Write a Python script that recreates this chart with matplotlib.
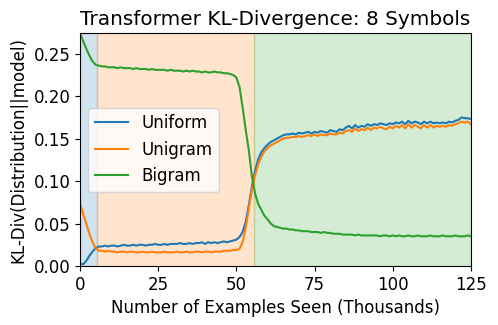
import numpy as np
import matplotlib
matplotlib.use("Agg")
import matplotlib.pyplot as plt

plt.rcParams["font.size"] = 12

# examples seen, in thousands
examples_k = list(range(0, 126))

uniform_kl = [
    0.003, 0.002, 0.006, 0.012, 0.017, 0.021, 0.023, 0.023, 0.024, 0.023,
    0.024, 0.024, 0.023, 0.024, 0.025, 0.024, 0.024, 0.025, 0.024, 0.025,
    0.025, 0.024, 0.025, 0.025, 0.026, 0.025, 0.025, 0.026, 0.025, 0.026,
    0.026, 0.026, 0.027, 0.026, 0.026, 0.027, 0.026, 0.027, 0.027, 0.028,
    0.026, 0.028, 0.027, 0.028, 0.027, 0.028, 0.029, 0.028, 0.029, 0.030,
    0.031, 0.034, 0.040, 0.052, 0.072, 0.094, 0.112, 0.126, 0.134, 0.139,
    0.143, 0.146, 0.148, 0.150, 0.152, 0.154, 0.155, 0.155, 0.156, 0.155,
    0.157, 0.156, 0.157, 0.158, 0.156, 0.158, 0.157, 0.159, 0.158, 0.157,
    0.160, 0.159, 0.158, 0.161, 0.160, 0.163, 0.165, 0.162, 0.166, 0.163,
    0.165, 0.164, 0.167, 0.165, 0.167, 0.166, 0.168, 0.167, 0.166, 0.168,
    0.167, 0.169, 0.168, 0.170, 0.167, 0.171, 0.168, 0.170, 0.169, 0.167,
    0.170, 0.168, 0.170, 0.168, 0.169, 0.168, 0.169, 0.168, 0.170, 0.169,
    0.171, 0.172, 0.175, 0.174, 0.174, 0.173,
]

unigram_kl = [
    0.073, 0.062, 0.050, 0.038, 0.028, 0.021, 0.018, 0.018, 0.017, 0.018,
    0.017, 0.017, 0.016, 0.017, 0.017, 0.016, 0.017, 0.017, 0.016, 0.016,
    0.017, 0.016, 0.016, 0.017, 0.016, 0.016, 0.016, 0.017, 0.016, 0.016,
    0.016, 0.017, 0.016, 0.016, 0.017, 0.016, 0.016, 0.017, 0.017, 0.016,
    0.017, 0.017, 0.016, 0.017, 0.017, 0.017, 0.018, 0.018, 0.018, 0.019,
    0.019, 0.020, 0.028, 0.045, 0.068, 0.090, 0.107, 0.120, 0.129, 0.135,
    0.139, 0.142, 0.144, 0.146, 0.148, 0.150, 0.151, 0.151, 0.152, 0.152,
    0.153, 0.152, 0.153, 0.154, 0.153, 0.155, 0.153, 0.155, 0.154, 0.154,
    0.156, 0.155, 0.155, 0.157, 0.156, 0.159, 0.160, 0.158, 0.162, 0.159,
    0.161, 0.160, 0.163, 0.160, 0.163, 0.162, 0.164, 0.162, 0.161, 0.164,
    0.162, 0.165, 0.163, 0.166, 0.162, 0.167, 0.163, 0.166, 0.164, 0.162,
    0.166, 0.163, 0.166, 0.163, 0.165, 0.164, 0.165, 0.164, 0.166, 0.165,
    0.167, 0.168, 0.170, 0.169, 0.170, 0.167,
]

bigram_kl = [
    0.274, 0.265, 0.256, 0.248, 0.241, 0.237, 0.236, 0.235, 0.235, 0.234,
    0.234, 0.234, 0.233, 0.234, 0.233, 0.233, 0.233, 0.232, 0.233, 0.232,
    0.232, 0.232, 0.231, 0.232, 0.231, 0.231, 0.231, 0.231, 0.230, 0.231,
    0.230, 0.230, 0.230, 0.229, 0.230, 0.229, 0.230, 0.229, 0.229, 0.228,
    0.229, 0.228, 0.228, 0.229, 0.228, 0.228, 0.227, 0.227, 0.226, 0.225,
    0.222, 0.211, 0.187, 0.160, 0.136, 0.105, 0.085, 0.073, 0.066, 0.059,
    0.055, 0.050, 0.047, 0.046, 0.045, 0.044, 0.044, 0.043, 0.043, 0.042,
    0.042, 0.041, 0.041, 0.041, 0.040, 0.040, 0.040, 0.039, 0.040, 0.039,
    0.039, 0.038, 0.038, 0.038, 0.037, 0.037, 0.037, 0.037, 0.036, 0.037,
    0.036, 0.036, 0.036, 0.036, 0.036, 0.036, 0.035, 0.036, 0.036, 0.035,
    0.036, 0.035, 0.036, 0.035, 0.035, 0.036, 0.035, 0.035, 0.036, 0.035,
    0.035, 0.035, 0.036, 0.035, 0.035, 0.035, 0.036, 0.035, 0.035, 0.035,
    0.036, 0.035, 0.035, 0.035, 0.036, 0.035,
]

# phase boundaries (thousands of examples)
phase_edges = [0, 5.5, 55.7, 125]
phase_colors = ["C0", "C1", "C2"]

fig = plt.figure(figsize=(4.98, 3.25), dpi=100)
ax = fig.add_axes([0.1606, 0.1815, 0.785, 0.716])

for i, c in enumerate(phase_colors):
    ax.axvspan(phase_edges[i], phase_edges[i + 1], color=c, alpha=0.2)

ax.plot(examples_k, uniform_kl, color="C0", label="Uniform")
ax.plot(examples_k, unigram_kl, color="C1", label="Unigram")
ax.plot(examples_k, bigram_kl, color="C2", label="Bigram")

ax.set_xlim(0, 125)
ax.set_ylim(0, 0.274)
ax.set_xticks([0, 25, 50, 75, 100, 125])
ax.set_title("Transformer KL-Divergence: 8 Symbols")
ax.set_xlabel("Number of Examples Seen (Thousands)")
ax.set_ylabel("KL-Div(Distribution||model)")
ax.legend(loc="center left")

fig.savefig("out.png", dpi=100)
